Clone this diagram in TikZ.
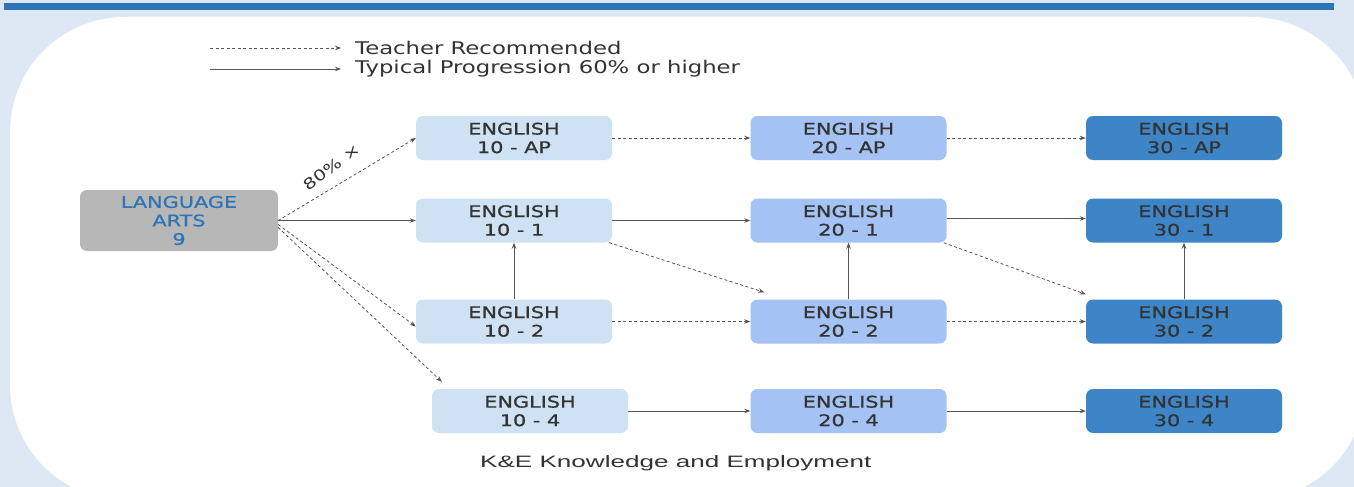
\documentclass[tikz,border=0pt]{standalone}
\usepackage{fontspec}
\usetikzlibrary{arrows.meta}
\newfontfamily\boxfont[FakeStretch=1.3,FakeBold=0.8]{DejaVu Sans}
\newfontfamily\legfont[FakeStretch=1.3]{DejaVu Sans}
\newfontfamily\kefont[FakeStretch=1.58]{Liberation Sans}
\definecolor{bgblue}{HTML}{DDE8F4}
\definecolor{barblue}{HTML}{2E75B6}
\definecolor{cone}{HTML}{CFE2F3}
\definecolor{ctwo}{HTML}{A4C2F4}
\definecolor{cthree}{HTML}{3D85C6}
\definecolor{cgray}{HTML}{B7B7B7}
\definecolor{txt}{HTML}{333333}
\definecolor{lnk}{HTML}{555555}
\tikzset{
  box/.style={rounded corners=7pt, minimum width=196pt, minimum height=44pt,
    align=center, inner sep=0pt, text=txt,
    font=\boxfont\fontsize{16}{18.5}\selectfont},
  lvlone/.style={box, fill=cone},
  lvltwo/.style={box, fill=ctwo},
  lvlthree/.style={box, fill=cthree},
  tip/.style={-{Stealth[length=6pt,width=4.5pt]}},
  solidlink/.style={tip, draw=lnk, line width=0.9pt},
  dashlink/.style={tip, draw=lnk, line width=0.8pt, dash pattern=on 3pt off 2.5pt},
  legendtext/.style={anchor=west, inner sep=0pt, text=txt,
    font=\legfont\fontsize{17.5}{20}\selectfont},
}
\begin{document}
\begin{tikzpicture}[x=1pt,y=-1pt]
\useasboundingbox (0,0) rectangle (1354,487);
\fill[bgblue] (0,0) rectangle (1354,487);
\fill[barblue] (4,3) rectangle (1334,10);
\fill[white, rounded corners=115pt] (10,17) rectangle (1366,500);

% legend
\coordinate (la) at (210,48);
\coordinate (lb) at (341,48);
\coordinate (lc) at (210,69);
\coordinate (ld) at (341,69);
\draw[dashlink] (la) -- (lb);
\draw[solidlink] (lc) -- (ld);
\node[legendtext] (lt1) at (355,48) {Teacher Recommended};
\node[legendtext] (lt2) at (355,69) {Typical Progression 60\% or higher};

% nodes
\node[box, fill=cgray, minimum width=198pt, minimum height=61pt, text=barblue] (la9) at (179,220.5) {LANGUAGE\\ARTS\\9};

\node[lvlone] (e10ap) at (514,138) {ENGLISH\\10 - AP};
\node[lvlone] (e101) at (514,220.5) {ENGLISH\\10 - 1};
\node[lvlone] (e102) at (514,321.5) {ENGLISH\\10 - 2};
\node[lvlone] (e104) at (530,411) {ENGLISH\\10 - 4};

\node[lvltwo] (e20ap) at (848.5,138) {ENGLISH\\20 - AP};
\node[lvltwo] (e201) at (848.5,220.5) {ENGLISH\\20 - 1};
\node[lvltwo] (e202) at (848.5,321.5) {ENGLISH\\20 - 2};
\node[lvltwo] (e204) at (848.5,411) {ENGLISH\\20 - 4};

\node[lvlthree] (e30ap) at (1184,138) {ENGLISH\\30 - AP};
\node[lvlthree] (e301) at (1184,220.5) {ENGLISH\\30 - 1};
\node[lvlthree] (e302) at (1184,321.5) {ENGLISH\\30 - 2};
\node[lvlthree] (e304) at (1184,411) {ENGLISH\\30 - 4};

\node[text=txt, font=\kefont\fontsize{16.5}{18}\selectfont, anchor=west, inner sep=0pt] (ke) at (480,463) {K\&E Knowledge and Employment};

% connectors from Language Arts
\draw[dashlink] (la9.east) -- (e10ap.west);
\node[rotate=37, text=txt, inner sep=0pt, font=\legfont\fontsize{15}{16}\selectfont] (lbl80) at (332,167) {80\% \texttimes};
\draw[solidlink] (la9.east) -- (e101.west);
\draw[dashlink] ([yshift=-4pt]la9.east) -- ([yshift=-5pt]e102.west);
\draw[dashlink] ([yshift=-7pt]la9.east) -- ([xshift=10pt,yshift=7pt]e104.north west);

% row AP
\draw[dashlink] (e10ap) -- (e20ap);
\draw[dashlink] (e20ap) -- (e30ap);
% row 1
\draw[solidlink] (e101) -- (e201);
\draw[solidlink] ([yshift=2pt]e201.east) -- ([yshift=2pt]e301.west);
% row 2
\draw[dashlink] (e102) -- (e202);
\draw[dashlink] (e202) -- (e302);
% row 4
\draw[solidlink] (e104) -- (e204);
\draw[solidlink] (e204) -- (e304);
% vertical
\draw[solidlink] (e102.north) -- (e101.south);
\draw[solidlink] (e202.north) -- (e201.south);
\draw[solidlink] (e302.north) -- (e301.south);
% diagonals
\draw[dashlink] ([xshift=-3pt]e101.south east) -- ([xshift=14pt,yshift=7pt]e202.north west);
\draw[dashlink] ([xshift=-3pt]e201.south east) -- ([xshift=0pt,yshift=5pt]e302.north west);
\end{tikzpicture}
\end{document}
